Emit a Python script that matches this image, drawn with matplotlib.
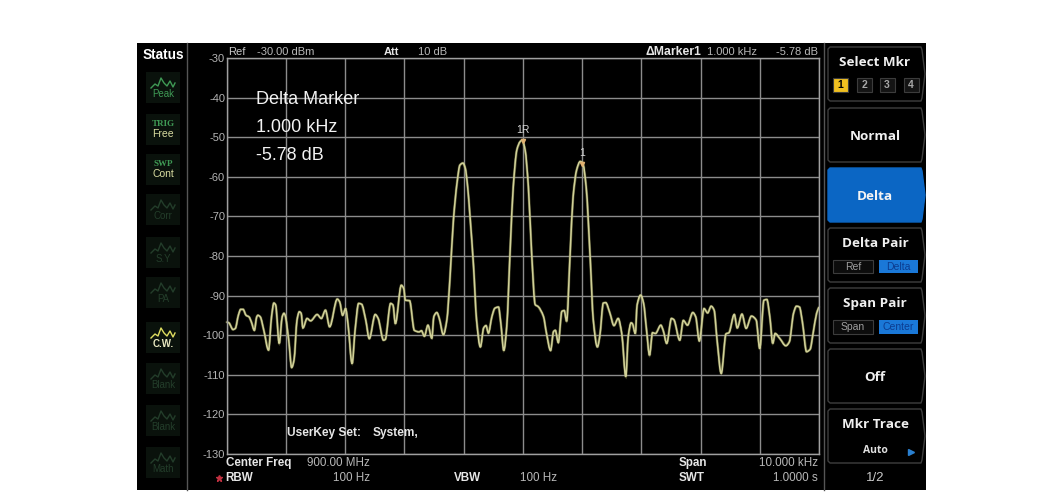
import matplotlib
matplotlib.use("Agg")
import matplotlib.pyplot as plt
import numpy as np
from matplotlib.patches import Rectangle, Polygon, PathPatch
from matplotlib.path import Path

plt.rcParams['font.family'] = ['Liberation Sans', 'DejaVu Sans']
plt.rcParams['axes.unicode_minus'] = False

# ---- data: trace, offset from centre (kHz) and level (dBm) ----
freq_khz = [
    -5.00,-4.96,-4.89,-4.85,-4.80,-4.76,-4.72,-4.67,-4.62,-4.58,-4.53,-4.49,-4.47,-4.43,-4.37,-4.29,-4.24,-4.20,-4.17,-4.11,
    -4.06,-4.03,-4.01,-3.95,-3.90,-3.86,-3.81,-3.77,-3.74,-3.71,-3.64,-3.58,-3.47,-3.40,-3.33,-3.26,-3.13,-3.09,-3.04,-2.99,
    -2.95,-2.88,-2.83,-2.77,-2.72,-2.65,-2.59,-2.49,-2.44,-2.35,-2.32,-2.23,-2.19,-2.15,-2.05,-2.01,-1.98,-1.91,-1.83,-1.75,
    -1.71,-1.66,-1.60,-1.535,-1.50,-1.45,-1.41,-1.34,-1.28,-1.23,-1.17,-1.11,-1.06,-1.01,-0.97,-0.93,-0.89,-0.83,-0.78,-0.715,
    -0.66,-0.62,-0.58,-0.52,-0.47,-0.41,-0.37,-0.32,-0.27,-0.21,-0.16,-0.10,-0.045,-0.01,0.04,0.095,0.15,0.21,0.26,0.35,
    0.40,0.47,0.52,0.55,0.60,0.66,0.70,0.74,0.80,0.85,0.91,0.97,1.01,1.07,1.14,1.19,1.26,1.30,1.36,1.40,
    1.47,1.54,1.61,1.67,1.74,1.78,1.83,1.85,1.90,1.93,1.99,2.04,2.09,2.14,2.19,2.24,2.33,2.37,2.43,2.51,
    2.55,2.65,2.71,2.78,2.87,2.92,2.98,3.06,3.12,3.18,3.23,3.28,3.35,3.43,3.48,3.57,3.62,3.70,3.77,3.86,
    3.94,4.00,4.07,4.12,4.17,4.22,4.26,4.34,4.44,4.50,4.57,4.62,4.67,4.72,4.79,4.85,4.90,4.96,5.00]
level_dbm = [
    -96.7,-96.9,-98.6,-98.3,-95.0,-93.5,-93.5,-95.0,-95.4,-96.7,-98.8,-95.4,-95.0,-95.4,-98.8,-103.8,-95.4,-91.9,-92.4,-102.1,
    -95.4,-94.5,-95.0,-101.3,-108.2,-106.3,-96.2,-94.1,-94.5,-98.2,-95.8,-96.4,-94.8,-95.8,-93.7,-97.9,-90.9,-91.6,-95.0,-93.3,
    -97.1,-107.2,-98.8,-92.0,-92.2,-96.2,-100.9,-94.8,-95.8,-101.3,-101.1,-92.0,-92.4,-97.1,-87.4,-88.2,-91.2,-91.3,-98.8,-99.2,
    -98.9,-100.3,-97.5,-100.8,-95.3,-94.3,-95.7,-99.9,-96.1,-86.0,-70.9,-61.6,-57.0,-56.5,-57.8,-62.5,-70.0,-82.7,-96.1,-103.0,
    -98.2,-97.6,-99.5,-95.3,-93.2,-92.9,-97.0,-103.9,-97.8,-77.6,-62.5,-53.2,-51.1,-50.7,-53.2,-62.5,-79.3,-92.3,-92.8,-95.3,
    -99.5,-103.9,-99.1,-98.8,-101.9,-94.0,-93.8,-96.5,-79.3,-65.0,-58.2,-56.1,-56.4,-62.5,-81.0,-96.1,-103.0,-100.3,-91.9,-91.8,
    -94.4,-97.6,-95.8,-99.5,-110.5,-100.4,-96.9,-97.1,-99.6,-92.4,-89.9,-92.0,-98.8,-105.1,-99.4,-99.6,-97.5,-98.8,-102.1,-95.8,
    -96.1,-101.3,-96.3,-97.5,-94.3,-95.4,-101.5,-93.3,-94.4,-92.7,-93.7,-101.3,-109.7,-99.7,-99.4,-94.8,-98.2,-94.7,-98.3,-95.2,
    -96.2,-103.4,-91.2,-91.0,-95.4,-102.1,-99.6,-100.9,-102.7,-101.7,-94.5,-92.7,-92.9,-96.7,-104.2,-103.6,-99.6,-94.5,-92.9]
marker_freq = [0.0, 1.0]
marker_level = [-50.9, -56.7]
marker_names = ['1R', '1']
db_ticks = [-30, -40, -50, -60, -70, -80, -90, -100, -110, -120, -130]
freq_ticks = [-5, -4, -3, -2, -1, 0, 1, 2, 3, 4, 5]

W, H = 1064, 494
fig = plt.figure(figsize=(W / 100, H / 100), dpi=100, facecolor='white')


def px_axes(z):
    a = fig.add_axes([0, 0, 1, 1], zorder=z)
    a.set_xlim(0, W); a.set_ylim(H, 0); a.axis('off'); a.patch.set_alpha(0)
    return a


def smooth_path(xs, ys):
    """Bezier path through the read points, rounded at local extremes."""
    x = np.asarray(xs, float); y = np.asarray(ys, float)
    d = np.diff(y) / np.diff(x)
    m = np.zeros_like(x)
    for i in range(1, len(x) - 1):
        if d[i - 1] * d[i] > 0:
            m[i] = 2 * d[i - 1] * d[i] / (d[i - 1] + d[i])
    m[0], m[-1] = d[0], d[-1]
    verts = [(x[0], y[0])]
    codes = [Path.MOVETO]
    for i in range(len(x) - 1):
        h = (x[i + 1] - x[i]) / 3
        verts += [(x[i] + h, y[i] + m[i] * h), (x[i + 1] - h, y[i + 1] - m[i + 1] * h), (x[i + 1], y[i + 1])]
        codes += [Path.CURVE4] * 3
    return Path(verts, codes)


bg = px_axes(0)
ui = px_axes(2)
bg.add_patch(Rectangle((137, 43), 789, 447, fc='black', ec='none'))
bg.plot([187, 187], [43, 490], color='#555555', lw=1)
bg.plot([824, 824], [43, 490], color='#555555', lw=1)

# main plot
L, R, T, B = 226.5, 819.0, 58.3, 453.7
ax = fig.add_axes([L / W, 1 - B / H, (R - L) / W, (B - T) / H], zorder=1)
ax.patch.set_alpha(0)
ax.set_xlim(-5, 5); ax.set_ylim(-130, -30)
ax.set_xticks(freq_ticks); ax.set_yticks(db_ticks)
ax.set_xticklabels([])
ax.tick_params(axis='both', length=0)
ax.tick_params(axis='y', pad=1, labelsize=8, labelcolor='#b4b4b4')
ax.grid(True, color='#8c8c8c', lw=1)
ax.set_axisbelow(True)
for s in ax.spines.values():
    s.set_color('#a0a0a0'); s.set_linewidth(1)
ax.plot(freq_khz, level_dbm, color='#8c8c50', lw=1.6, alpha=0.3, solid_joinstyle='round', clip_on=False)
trace_path = smooth_path(freq_khz, level_dbm)
ax.add_patch(PathPatch(trace_path, fc='none', ec='#8c8c50', lw=2.0, alpha=0.4, clip_on=False))
ax.add_patch(PathPatch(trace_path, fc='none', ec='#f0f0b8', lw=1.1, clip_on=False))
ax.plot(marker_freq, marker_level, ls='none', marker='v', ms=3, color='#e0b070')
for f, v, n in zip(marker_freq, marker_level, marker_names):
    ax.annotate(n, (f, v), xytext=(0, 4), textcoords='offset points', ha='center', va='bottom',
                color='#d8d8d8', fontsize=7.5)


def t(x, y, s, c='#e8e8e8', fs=8.4, w='normal', ha='left', **kw):
    ui.text(x, y, s, color=c, fontsize=fs, fontweight=w, ha=ha, va='center', **kw)


GR = '#b8b8b8'
LB = '#e6e6e6'
t(163, 55, 'Status', '#ffffff', 9.8, 'bold', 'center')
t(228, 52, 'Ref', '#c8c8c8', 8)
t(314, 52, '-30.00 dBm', GR, 8, ha='right')
t(384, 52, 'Att', LB, 8, 'bold')
t(447, 52, '10 dB', GR, 8, ha='right')
t(645, 52, 'ΔMarker1', LB, 8.8, 'bold')
t(757, 52, '1.000 kHz', GR, 8, ha='right')
t(818, 52, '-5.78 dB', GR, 8, ha='right')
t(256, 99, 'Delta Marker', '#f2f2f2', 13)
t(256, 127, '1.000 kHz', '#f2f2f2', 13)
t(256, 155, '-5.78 dB', '#f2f2f2', 13)
t(287, 433, 'UserKey Set:', LB, 8.6, 'bold')
t(373, 433, 'System,', LB, 8.6, 'bold')
t(226, 463, 'Center Freq', LB, 8.4, 'bold')
t(370, 463, '900.00 MHz', GR, ha='right')
t(225, 478, 'RBW', LB, 8.4, 'bold')
ui.plot([219], [478], ls='none', marker='*', ms=4.5, color='#c03040')
t(370, 478, '100 Hz', GR, ha='right')
t(454, 478, 'VBW', LB, 8.4, 'bold')
t(557, 478, '100 Hz', GR, ha='right')
t(679, 463, 'Span', LB, 8.4, 'bold')
t(818, 463, '10.000 kHz', GR, ha='right')
t(679, 478, 'SWT', LB, 8.4, 'bold')
t(818, 478, '1.0000 s', GR, ha='right')

# status column
squiggle_dx = [-12, -8, -5, -2, 1, 4, 7, 10, 12]
squiggle_dy = [5, 1, 3, -5, 0, 3, -2, 4, 0]
status = [
    (87, 'Peak', '', '#3f9a55', '#3f9a55', True),
    (129, 'TRIG', 'Free', '#3f9a55', '#d8dca0', False),
    (169, 'SWP', 'Cont', '#3f9a55', '#d8dca0', False),
    (209, 'Corr', '', '#233d2a', '#233d2a', True),
    (252, 'S.Y', '', '#233d2a', '#233d2a', True),
    (292, 'PA', '', '#233d2a', '#233d2a', True),
    (337, 'C.W.', '', '#dede60', '#e8e8c0', True),
    (378, 'Blank', '', '#233d2a', '#233d2a', True),
    (420, 'Blank', '', '#233d2a', '#233d2a', True),
    (462, 'Math', '', '#233d2a', '#233d2a', True),
]
for yc, top, bot, c1, c2, icon in status:
    ui.add_patch(Rectangle((146, yc - 15), 34, 31, fc='#0a120c', ec='none'))
    if icon:
        ui.plot([163 + d for d in squiggle_dx], [yc - 4 + d for d in squiggle_dy], color=c1, lw=1)
        t(163, yc + 7, top, c2, 7, 'bold' if top == 'C.W.' else 'normal', 'center')
    else:
        t(163, yc - 5, top, c1, 6.5, 'bold', 'center', family='Liberation Serif')
        t(163, yc + 5, bot, c2, 7.5, 'normal', 'center')


# softkey panel
def key(y0, y1, fc='black', ec='#3e3e3e'):
    x0, x1 = 828, 921
    m = (y0 + y1) / 2
    ui.add_patch(Polygon([(x0 + 2, y0), (x1, y0), (x1 + 1, y0 + 3), (x1 + 4, m), (x1 + 1, y1 - 3), (x1, y1),
                          (x0 + 2, y1), (x0, y1 - 2), (x0, y0 + 2)], closed=True, fc=fc, ec=ec, lw=1, joinstyle='round'))


KF = 'Open Sans'
key(47, 101)
t(875, 62, 'Select Mkr', '#f0f0f0', 9.7, 'bold', 'center', family=KF)
for xc, n, fc, tc in [(840, '1', '#f0c020', '#000000'), (864, '2', '#141414', '#a8a8a8'),
                      (887, '3', '#141414', '#a8a8a8'), (911, '4', '#141414', '#a8a8a8')]:
    ui.add_patch(Rectangle((xc - 7.5, 78), 15, 14, fc=fc, ec='#3c3c3c', lw=0.8))
    t(xc, 85, n, tc, 7.5, 'bold', 'center')
key(108, 162)
t(875, 136, 'Normal', '#f0f0f0', 9.7, 'bold', 'center', family=KF)
key(168, 222, fc='#0b66c4', ec='#0b66c4')
t(875, 196, 'Delta', '#f4f4f4', 9.7, 'bold', 'center', family=KF)
key(228, 282)
t(875, 243, 'Delta Pair', '#f0f0f0', 9.7, 'bold', 'center', family=KF)
ui.add_patch(Rectangle((833, 260), 40, 13, fc='#0c0c0c', ec='#3c3c3c', lw=0.8))
t(853, 266.5, 'Ref', '#a0a0a0', 7.5, ha='center')
ui.add_patch(Rectangle((879, 260), 39, 13, fc='#1a78d8', ec='none'))
t(898.5, 266.5, 'Delta', '#0c3c90', 7.5, ha='center')
key(288, 343)
t(875, 303, 'Span Pair', '#f0f0f0', 9.7, 'bold', 'center', family=KF)
ui.add_patch(Rectangle((833, 320), 40, 14, fc='#0c0c0c', ec='#3c3c3c', lw=0.8))
t(853, 327, 'Span', '#a0a0a0', 7.5, ha='center')
ui.add_patch(Rectangle((879, 320), 39, 14, fc='#1a78d8', ec='none'))
t(898.5, 327, 'Center', '#0c3c90', 7.5, ha='center')
key(349, 403)
t(875, 377, 'Off', '#f0f0f0', 9.7, 'bold', 'center', family=KF)
key(409, 463)
t(875, 424, 'Mkr Trace', '#f0f0f0', 9.7, 'bold', 'center', family=KF)
t(875, 450, 'Auto', '#e0e0e0', 7.5, 'bold', 'center', family=KF)
ui.plot([911], [452], ls='none', marker='>', ms=5, color='#2a80d0')
t(875, 478, '1/2', '#c8c8c8', 9.5, ha='center')

fig.savefig('out.png', dpi=100, facecolor='white')
